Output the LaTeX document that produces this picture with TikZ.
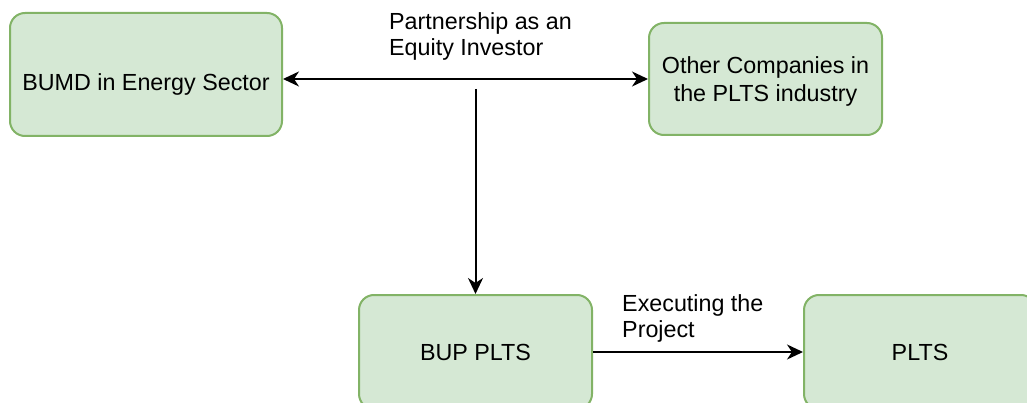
\documentclass[tikz,border=0pt]{standalone}
\usepackage{fontspec}
\setmainfont{Liberation Sans}
\usetikzlibrary{arrows.meta}
\definecolor{boxfill}{HTML}{D5E8D4}
\definecolor{boxdraw}{HTML}{82B366}
\begin{document}
\begin{tikzpicture}[x=1pt,y=-1pt,
  box/.style={draw=boxdraw,fill=boxfill,line width=2pt,rounded corners=15pt,inner sep=0pt,align=center,font=\fontsize{23.3}{28}\selectfont},
  txt/.style={inner sep=0pt,align=center,font=\fontsize{23.3}{28}\selectfont},
  lbl/.style={anchor=north west,inner sep=0pt,align=left,font=\fontsize{23.3}{26}\selectfont},
  tip/.style={Stealth[length=16pt,width=15pt,inset=5pt]},
  arr/.style={line width=2pt,-{Stealth[length=16pt,width=15pt,inset=5pt]}},
  arrb/.style={line width=2pt,{Stealth[length=16pt,width=15pt,inset=5pt]}-{Stealth[length=16pt,width=15pt,inset=5pt]}}]
\useasboundingbox (0,0) rectangle (1027,403);
\clip (0,0) rectangle (1027,403);
\node[box,minimum width=272pt,minimum height=123pt] (bumd) at (146,74.5) {};
\node[txt] (bumdtext) at (146,84) {BUMD in Energy Sector};
\node[box,minimum width=233pt,minimum height=112pt] (other) at (765.5,79) {};
\node[txt] (othertext) at (765.5,81) {Other Companies in\\the PLTS industry};
\node[box,minimum width=233pt,minimum height=114pt] (bup) at (475.5,352) {BUP PLTS};
\node[box,minimum width=232pt,minimum height=114pt] (plts) at (920,352) {PLTS};
\draw[arrb] (bumd.east |- other.west) -- (other.west);
\coordinate (src) at (475.5,89);
\draw[arr] (src) -- (bup.north);
\draw[arr] (bup.east) -- (plts.west);
\node[lbl] (l1) at (389,12) {Partnership as an\\Equity Investor};
\node[lbl] (l2) at (622,294) {Executing the\\Project};
\end{tikzpicture}
\end{document}
